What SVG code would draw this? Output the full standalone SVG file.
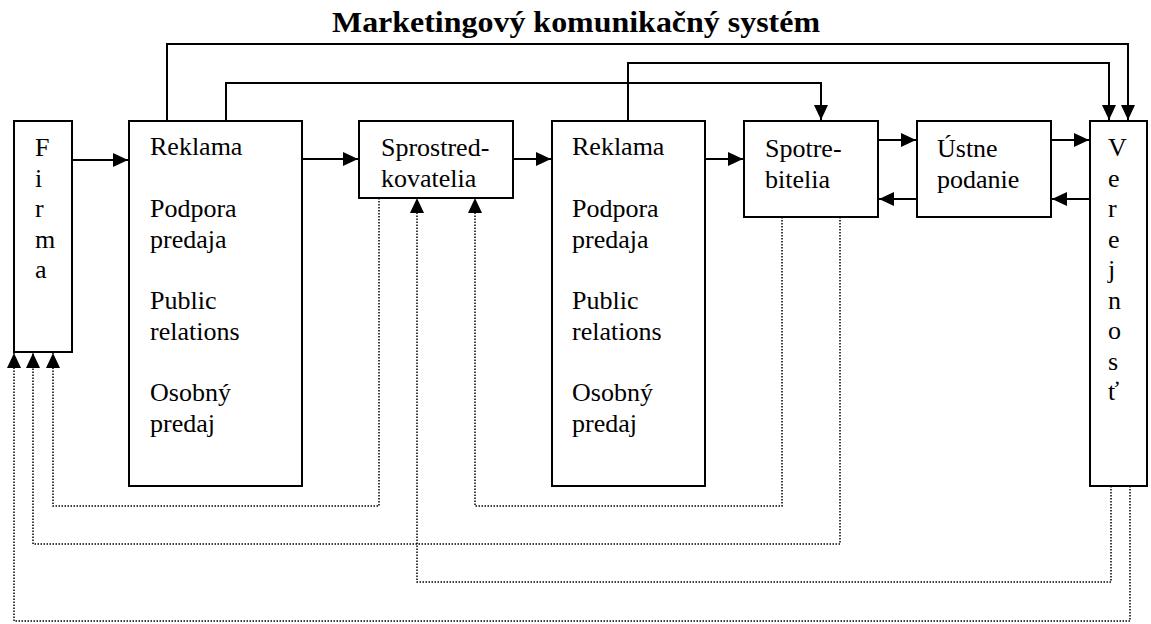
<svg xmlns="http://www.w3.org/2000/svg" width="1151" height="624" viewBox="0 0 1151 624">
<style>
.box{fill:#fff;stroke:#000;stroke-width:2}
.lbl{font-family:'Liberation Serif','Times New Roman',serif;font-size:26px;fill:#000}
.title{font-family:'Liberation Serif','Times New Roman',serif;font-size:30px;font-weight:bold;fill:#000}
.solid{fill:none;stroke:#000;stroke-width:2}
.dot{fill:none;stroke:#000;stroke-width:1.5;stroke-dasharray:1.5 1.5}
</style>
<defs>
<marker id="ah" markerUnits="userSpaceOnUse" markerWidth="16" markerHeight="14" refX="15" refY="7" orient="auto" overflow="visible">
<path d="M0,0 L15,7 L0,14 z" fill="#000" stroke="none"/>
</marker>
</defs>
<rect width="1151" height="624" fill="#fff"/>
<text class="title" x="332" y="32" textLength="488" lengthAdjust="spacingAndGlyphs">Marketingový komunikačný systém</text>

<g id="connectors">
<path class="solid" d="M167,121 V44 H1128 V120" marker-end="url(#ah)"/>
<path class="solid" d="M628,121 V63 H1109 V120" marker-end="url(#ah)"/>
<path class="solid" d="M226,121 V83 H821 V120" marker-end="url(#ah)"/>
<path class="solid" d="M72,160 H128" marker-end="url(#ah)"/>
<path class="solid" d="M302,159 H358" marker-end="url(#ah)"/>
<path class="solid" d="M513,159 H551" marker-end="url(#ah)"/>
<path class="solid" d="M705,159 H743" marker-end="url(#ah)"/>
<path class="solid" d="M878,140 H916" marker-end="url(#ah)"/>
<path class="solid" d="M1051,140 H1089" marker-end="url(#ah)"/>
<path class="solid" d="M917,199 H879" marker-end="url(#ah)"/>
<path class="solid" d="M1090,199 H1052" marker-end="url(#ah)"/>
<path class="dot" d="M379,198 V506 H53 V353" marker-end="url(#ah)"/>
<path class="dot" d="M782,217 V506 H475 V198" marker-end="url(#ah)"/>
<path class="dot" d="M840,217 V544 H33 V353" marker-end="url(#ah)"/>
<path class="dot" d="M1111,486 V582 H417 V198" marker-end="url(#ah)"/>
<path class="dot" d="M1130,486 V621 H14 V353" marker-end="url(#ah)"/>
</g>

<g id="firma">
<rect class="box" x="14" y="121" width="58" height="231"/>
<text class="lbl" font-family="Liberation Serif, serif" x="35" y="156">F</text>
<text class="lbl" font-family="Liberation Serif, serif" x="35" y="186.5">i</text>
<text class="lbl" font-family="Liberation Serif, serif" x="35" y="217">r</text>
<text class="lbl" font-family="Liberation Serif, serif" x="35" y="247.5">m</text>
<text class="lbl" font-family="Liberation Serif, serif" x="35" y="278">a</text>
</g>

<g id="reklama1">
<rect class="box" x="129" y="121" width="173" height="365"/>
<text class="lbl" x="150" y="155">Reklama</text>
<text class="lbl" x="150" y="216.5">Podpora</text>
<text class="lbl" x="150" y="247.5">predaja</text>
<text class="lbl" x="150" y="309">Public</text>
<text class="lbl" x="150" y="339.5">relations</text>
<text class="lbl" x="150" y="401">Osobný</text>
<text class="lbl" x="150" y="432">predaj</text>
</g>

<g id="sprostredkovatelia">
<rect class="box" x="359" y="121" width="154" height="77"/>
<text class="lbl" x="381" y="156">Sprostred-</text>
<text class="lbl" x="381" y="186.5">kovatelia</text>
</g>

<g id="reklama2">
<rect class="box" x="552" y="121" width="153" height="365"/>
<text class="lbl" x="572" y="155">Reklama</text>
<text class="lbl" x="572" y="216.5">Podpora</text>
<text class="lbl" x="572" y="247.5">predaja</text>
<text class="lbl" x="572" y="309">Public</text>
<text class="lbl" x="572" y="339.5">relations</text>
<text class="lbl" x="572" y="401">Osobný</text>
<text class="lbl" x="572" y="432">predaj</text>
</g>

<g id="spotrebitelia">
<rect class="box" x="744" y="121" width="134" height="96"/>
<text class="lbl" x="765" y="157">Spotre-</text>
<text class="lbl" x="765" y="187.5">bitelia</text>
</g>

<g id="ustne">
<rect class="box" x="917" y="121" width="134" height="96"/>
<text class="lbl" x="937" y="157">Ústne</text>
<text class="lbl" x="937" y="187.5">podanie</text>
</g>

<g id="verejnost">
<rect class="box" x="1090" y="121" width="57" height="365"/>
<text class="lbl" x="1108" y="156">V</text>
<text class="lbl" x="1108" y="186.5">e</text>
<text class="lbl" x="1108" y="217">r</text>
<text class="lbl" x="1108" y="247.5">e</text>
<text class="lbl" x="1108" y="278">j</text>
<text class="lbl" x="1108" y="308.5">n</text>
<text class="lbl" x="1108" y="339">o</text>
<text class="lbl" x="1108" y="369.5">s</text>
<text class="lbl" x="1108" y="400">ť</text>
</g>
</svg>
